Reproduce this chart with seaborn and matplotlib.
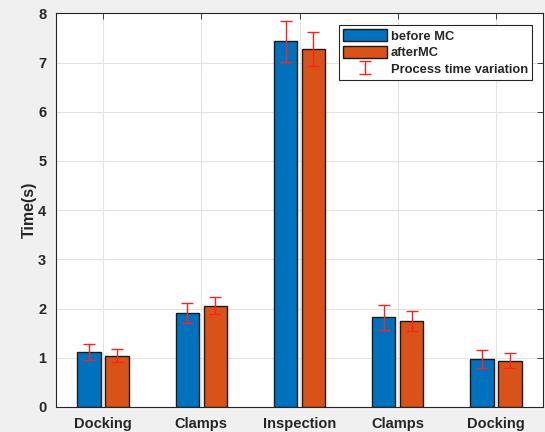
import numpy as np
import pandas as pd
import seaborn as sns
import matplotlib.pyplot as plt
from matplotlib.patches import Patch

steps = ["Docking", "Clamps", "Inspection", "Clamps", "Docking"]
before_mc = [1.12, 1.91, 7.43, 1.82, 0.97]
after_mc = [1.04, 2.06, 7.27, 1.75, 0.94]
before_err = [0.16, 0.21, 0.41, 0.25, 0.18]
after_err = [0.13, 0.17, 0.34, 0.21, 0.15]
series = ["before MC", "afterMC"]

blue = "#0072BD"
orange = "#D95319"

sns.set_theme(style="white")
plt.rcParams["font.family"] = ["Liberation Sans", "DejaVu Sans"]

n = len(steps)
df = pd.DataFrame({
    "step": list(range(n)) * 2,
    "time": before_mc + after_mc,
    "series": [series[0]] * n + [series[1]] * n,
})

fig = plt.figure(figsize=(5.45, 4.32), dpi=100, facecolor="#f0f0f0")
ax = fig.add_axes([0.1028, 0.0579, 0.8935, 0.9113])
ax.set_facecolor("white")

sns.barplot(data=df, x="step", y="time", hue="series", hue_order=series,
            palette=[blue, orange], saturation=1, width=0.57, gap=0.16,
            edgecolor="#1a1a1a", linewidth=1.0, errorbar=None,
            legend=False, ax=ax)

err_handle = None
for cont, errs in zip(ax.containers[:2], [before_err, after_err]):
    xs = [b.get_x() + b.get_width() / 2 for b in cont]
    ys = [b.get_height() for b in cont]
    eb = ax.errorbar(xs, ys, yerr=errs, fmt="none", ecolor="#ff2020",
                     elinewidth=1.0, capsize=4, capthick=1.0, zorder=5)
    if err_handle is None:
        err_handle = eb

ax.set_xlim(-0.48, 4.48)
ax.set_ylim(0, 8)
ax.set_yticks(range(0, 9))
ax.set_xticks(range(n))
ax.set_xticklabels(steps)
ax.set_xlabel("")
ax.set_ylabel("Time(s)", fontsize=11.5, fontweight="bold", color="#262626",
              labelpad=1)

ax.grid(True, color="#e3e3e3", linewidth=0.8)
ax.set_axisbelow(True)
for s in ax.spines.values():
    s.set_color("#262626")
    s.set_linewidth(0.8)
ax.tick_params(direction="in", length=4, width=0.6, colors="#262626",
               top=True, right=True, labelsize=10.5, pad=7)
for lab in ax.get_xticklabels() + ax.get_yticklabels():
    lab.set_fontweight("bold")

handles = [
    Patch(facecolor=blue, edgecolor="#1a1a1a", label=series[0]),
    Patch(facecolor=orange, edgecolor="#1a1a1a", label=series[1]),
    err_handle,
]
labels = [series[0], series[1], "Process time variation"]
leg = ax.legend(handles, labels, loc="upper right",
                bbox_to_anchor=(0.977, 0.970), borderaxespad=0,
                fancybox=False, framealpha=1, edgecolor="#262626",
                handlelength=3.4, handleheight=1.1, handletextpad=0.3,
                borderpad=0.3, labelspacing=0.25,
                prop={"weight": "bold", "size": 9.3})
leg.get_frame().set_linewidth(0.8)

fig.savefig("out.png", dpi=100, facecolor=fig.get_facecolor())
